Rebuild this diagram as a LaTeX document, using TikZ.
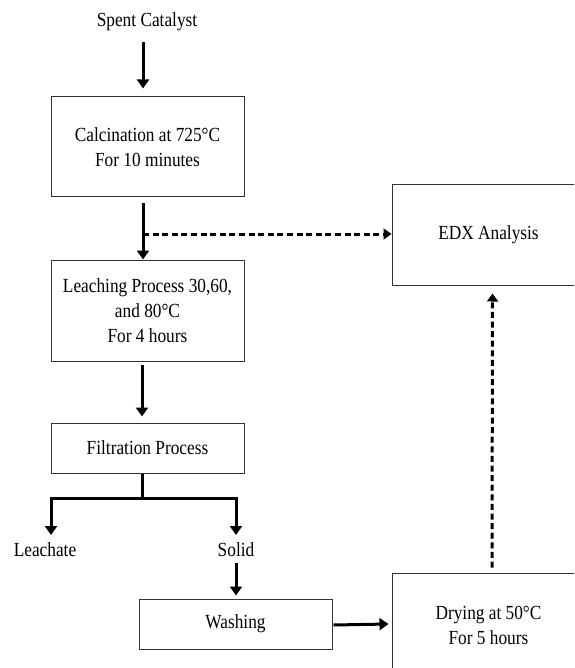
\documentclass[tikz,border=0pt]{standalone}
\usepackage{fontspec}
\setmainfont{Liberation Serif}[FakeStretch=0.865]
\usetikzlibrary{arrows.meta}
\begin{document}
\begin{tikzpicture}[x=1pt,y=-1pt,
  every node/.style={font=\fontsize{20}{25}\selectfont, align=center},
  procbox/.style={draw=black!80, line width=1pt, rectangle, inner sep=0pt,
    minimum width=193pt},
  label/.style={inner sep=0pt},
  wire/.style={line width=3pt},
  flow/.style={line width=3pt, -{Triangle[width=12pt,length=9pt]}},
  dflow/.style={line width=3pt, dash pattern=on 6pt off 3.6pt,
    -{Triangle[width=11pt,length=8pt]}}]
\useasboundingbox (0,0) rectangle (574,668);
\clip (0,0) rectangle (574,668);

% process steps
\node[label] (spent) at (147,22) {Spent Catalyst};
\node[procbox, minimum height=100pt] (calc) at (147.5,147)
  {Calcination at 725°C\\For 10 minutes};
\node[procbox, minimum height=101pt] (leach) at (147.5,310.5)
  {Leaching Process 30,60,\\and 80°C\\For 4 hours};
\node[procbox, minimum height=50pt] (filt) at (147.5,448) {Filtration Process};
\node[label] (leachate) at (45,550) {Leachate};
\node[label] (solid) at (236,550) {Solid};
\node[procbox, minimum height=50pt] (wash) at (235.5,624) {Washing};
\node[procbox, minimum height=105pt] (dry) at (488.5,625.5)
  {Drying at 50°C\\For 5 hours};
\node[procbox, minimum height=100pt] (edx) at (488.5,235) {EDX Analysis};

% main line
\draw[flow] ([xshift=-4pt,yshift=-11pt]spent.south) -- ([xshift=-4.5pt,yshift=8pt]calc.north);
\draw[flow] ([xshift=-4.5pt,yshift=-6pt]calc.south) -- ([xshift=-4.5pt]leach.north);
\coordinate (tap) at (143,234);
\draw[dflow] (tap) -- (edx.west |- tap);
\draw[flow] ([xshift=-5.5pt,yshift=-3pt]leach.south) -- ([xshift=-5.5pt,yshift=6pt]filt.north);

% filtration split
\coordinate (fork) at (142,498);
\coordinate (forkL) at (51,498);
\coordinate (forkR) at (236,498);
\coordinate (leachIn) at (51,535);
\coordinate (solidIn) at (236,535);
\draw[wire] ([xshift=-5.5pt]filt.south) -- (fork);
\draw[wire, line cap=rect] (forkL) -- (forkR);
\draw[flow] (forkL) -- (leachIn);
\draw[flow] (forkR) -- (solidIn);

% solid route
\draw[flow] ([yshift=-6pt]solid.south) -- ([xshift=0.5pt,yshift=3pt]wash.north);
\draw[flow] ([xshift=1pt,yshift=-1pt]wash.east) -- ([xshift=-3pt]dry.west |- wash.east);
\draw[dflow] ([xshift=3.5pt,yshift=5pt]dry.north) -- ([xshift=4pt,yshift=-8pt]edx.south);
\end{tikzpicture}
\end{document}
